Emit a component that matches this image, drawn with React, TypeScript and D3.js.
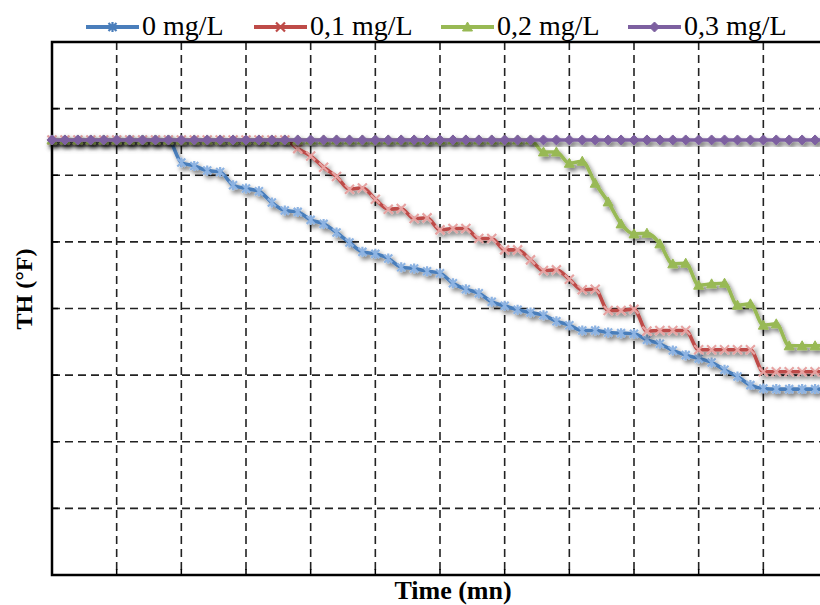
import React from "react";
import * as d3 from "d3";

// time (mn), one reading every 2 minutes
const time = [
  0, 2, 4, 6, 8, 10, 12, 14, 16, 18, 20, 22, 24, 26, 28, 30, 32, 34, 36, 38, 40,
  42, 44, 46, 48, 50, 52, 54, 56, 58, 60, 62, 64, 66, 68, 70, 72, 74, 76, 78, 80,
  82, 84, 86, 88, 90, 92, 94, 96, 98, 100, 102, 104, 106, 108, 110, 112, 114, 116, 118, 120,
];

const th0 = [
  65.3, 65.3, 65.3, 65.3, 65.3, 65.3, 65.3, 65.3, 65.3, 65.3, 61.9, 61.4, 60.7, 60.5, 58.5,
  58.0, 57.6, 55.9, 54.7, 54.5, 53.3, 52.7, 51.4, 49.9, 48.5, 48.2, 47.5, 46.2, 46.0, 45.6,
  45.3, 43.8, 42.9, 42.3, 41.0, 40.4, 39.8, 39.4, 39.0, 38.1, 37.5, 36.7, 36.7, 36.4, 36.3,
  36.2, 35.3, 34.7, 33.7, 33.0, 32.5, 31.9, 30.8, 29.8, 28.5, 28.0, 27.9, 27.9, 27.9, 27.9, 27.9,
];

const th01 = [
  65.3, 65.3, 65.3, 65.3, 65.3, 65.3, 65.3, 65.3, 65.3, 65.3, 65.3, 65.3, 65.3, 65.3, 65.3,
  65.3, 65.3, 65.3, 65.3, 64.0, 62.9, 61.2, 59.8, 57.9, 58.1, 56.4, 54.9, 55.0, 53.5, 53.6,
  51.8, 52.0, 52.0, 50.5, 50.5, 48.8, 48.8, 47.3, 45.7, 45.8, 44.4, 42.8, 42.9, 39.7, 39.7,
  39.9, 36.6, 36.7, 36.7, 36.7, 33.8, 33.8, 33.8, 33.8, 33.8, 30.5, 30.5, 30.5, 30.5, 30.5, 30.5,
];

const th02 = [
  65.3, 65.3, 65.3, 65.3, 65.3, 65.3, 65.3, 65.3, 65.3, 65.3, 65.3, 65.3, 65.3, 65.3, 65.3,
  65.3, 65.3, 65.3, 65.3, 65.3, 65.3, 65.3, 65.3, 65.3, 65.3, 65.3, 65.3, 65.3, 65.3, 65.3,
  65.3, 65.3, 65.3, 65.3, 65.3, 65.3, 65.3, 65.3, 63.5, 63.5, 61.8, 62.1, 58.8, 56.0, 52.7,
  51.2, 51.3, 49.7, 46.7, 46.8, 43.5, 43.7, 43.8, 40.5, 40.7, 37.5, 37.7, 34.4, 34.4, 34.4, 34.4,
];

const th03 = [
  65.3, 65.3, 65.3, 65.3, 65.3, 65.3, 65.3, 65.3, 65.3, 65.3, 65.3, 65.3, 65.3, 65.3, 65.3,
  65.3, 65.3, 65.3, 65.3, 65.3, 65.3, 65.3, 65.3, 65.3, 65.3, 65.3, 65.3, 65.3, 65.3, 65.3,
  65.3, 65.3, 65.3, 65.3, 65.3, 65.3, 65.3, 65.3, 65.3, 65.3, 65.3, 65.3, 65.3, 65.3, 65.3,
  65.3, 65.3, 65.3, 65.3, 65.3, 65.3, 65.3, 65.3, 65.3, 65.3, 65.3, 65.3, 65.3, 65.3, 65.3, 65.3,
];

const seriesNames = ["0 mg/L", "0,1 mg/L", "0,2 mg/L", "0,3 mg/L"];
const xTicks = [0, 10, 20, 30, 40, 50, 60, 70, 80, 90, 100, 110, 120];
const yTicks = [0, 10, 20, 30, 40, 50, 60, 70, 80];

const W = 820;
const H = 605;
const m = { left: 52, top: 42, right: 828, bottom: 575 };
const font = "'Times New Roman', 'Liberation Serif', serif";

const styles = [
  { line: "#4A7EBB", marker: "star", mColor: "#8DB3E2" },
  { line: "#BE4B48", marker: "x", mColor: "#E6A3A2" },
  { line: "#98B954", marker: "tri", mColor: "#98B954" },
  { line: "#7D60A0", marker: "dia", mColor: "#7D60A0" },
];

const markerPath = (kind: string) => {
  if (kind === "star") return "M-4,-4L4,4M-4,4L4,-4M0,-5L0,5";
  if (kind === "x") return "M-4.5,-4.5L4.5,4.5M-4.5,4.5L4.5,-4.5";
  if (kind === "tri") return "M0,-5L5,4L-5,4Z";
  return "M0,-5L5,0L0,5L-5,0Z";
};

const Marker = ({ kind, color, x, y }: { kind: string; color: string; x: number; y: number }) => {
  const filled = kind === "tri" || kind === "dia";
  return (
    <path
      d={markerPath(kind)}
      transform={`translate(${x},${y})`}
      fill={filled ? color : "none"}
      stroke={color}
      strokeWidth={filled ? 1 : 2.2}
    />
  );
};

export default function App() {
  const series = [th0, th01, th02, th03];

  const x = d3.scaleLinear().domain([0, 120]).range([m.left, m.right]);
  const y = d3.scaleLinear().domain([0, 80]).range([m.bottom, m.top]);

  const line = d3
    .line<number>()
    .x((_, i) => x(time[i]))
    .y((d) => y(d))
    .curve(d3.curveMonotoneX);

  const legendX = [86, 254, 441, 628];

  return (
    <svg
      width={W}
      height={H}
      style={{ position: "absolute", left: 0, top: 0, background: "#fff" }}
      fontFamily={font}
    >
      <defs>
        <filter id="shadow" x="-10%" y="-10%" width="130%" height="130%">
          <feDropShadow dx="2.5" dy="3.5" stdDeviation="2.2" floodColor="#000" floodOpacity="0.5" />
        </filter>
      </defs>

      {/* grid */}
      <g stroke="#222" strokeWidth={1.6} strokeDasharray="8,5">
        {yTicks.slice(1, -1).map((t) => (
          <line key={"h" + t} x1={m.left} x2={m.right} y1={y(t)} y2={y(t)} />
        ))}
        {xTicks.slice(1, -1).map((t) => (
          <line key={"v" + t} x1={x(t)} x2={x(t)} y1={m.top} y2={m.bottom} />
        ))}
      </g>

      {/* ticks */}
      <g stroke="#000" strokeWidth={1.5}>
        {yTicks.map((t) => (
          <line key={"yt" + t} x1={m.left} x2={m.left + 6} y1={y(t)} y2={y(t)} />
        ))}
        {xTicks.map((t) => (
          <line key={"xt" + t} x1={x(t)} x2={x(t)} y1={m.bottom} y2={m.bottom - 6} />
        ))}
      </g>

      {/* plot border */}
      <rect
        x={m.left}
        y={m.top}
        width={m.right - m.left}
        height={m.bottom - m.top}
        fill="none"
        stroke="#000"
        strokeWidth={2.5}
      />

      {/* series */}
      {series.map((s, si) => (
        <g key={si} filter="url(#shadow)">
          <path d={line(s) || ""} fill="none" stroke={styles[si].line} strokeWidth={3.6} />
          {s.map((v, i) => (
            <Marker key={i} kind={styles[si].marker} color={styles[si].mColor} x={x(time[i])} y={y(v)} />
          ))}
        </g>
      ))}

      {/* legend */}
      {seriesNames.map((name, i) => (
        <g key={name} transform={`translate(${legendX[i]},27)`}>
          <line x1={0} x2={53} y1={0} y2={0} stroke={styles[i].line} strokeWidth={3.8} />
          <Marker
            kind={styles[i].marker}
            color={styles[i].marker === "star" || styles[i].marker === "x" ? styles[i].line : styles[i].mColor}
            x={26.5}
            y={0}
          />
          <text x={56} y={7.5} fontSize={28} fill="#000">
            {name}
          </text>
        </g>
      ))}

      {/* axis titles */}
      <text x={453} y={599} textAnchor="middle" fontSize={26} fontWeight="bold">
        Time (mn)
      </text>
      <text
        transform="translate(32,289) rotate(-90)"
        textAnchor="middle"
        fontSize={24}
        fontWeight="bold"
      >
        TH (°F)
      </text>
    </svg>
  );
}
